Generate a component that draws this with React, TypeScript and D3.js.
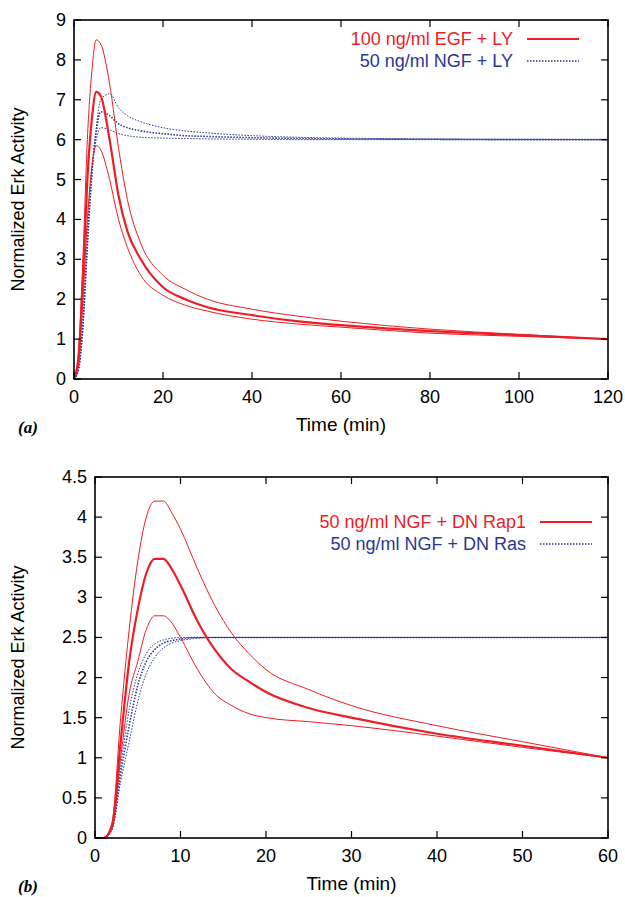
import * as d3 from 'd3';

// Panel (a): EGF + LY (red) and NGF + LY (blue)
const tA = [0, 1, 2, 3, 4, 5, 6, 8, 10, 12, 15, 20, 25, 30, 40, 50, 60, 80, 100, 120];
const egfMid = [0, 0.5, 2.5, 5, 6.5, 7.2, 7.1, 6.0, 4.6, 3.7, 3.0, 2.3, 2.0, 1.8, 1.6, 1.45, 1.35, 1.2, 1.1, 1.0];
const egfHigh = [0, 0.7, 3, 6, 7.7, 8.5, 8.4, 7.4, 5.8, 4.5, 3.4, 2.6, 2.25, 2.0, 1.75, 1.58, 1.45, 1.25, 1.12, 1.0];
const egfLow = [0, 0.4, 2, 4, 5.3, 5.85, 5.75, 5.0, 4.0, 3.3, 2.6, 2.1, 1.85, 1.7, 1.5, 1.38, 1.3, 1.15, 1.07, 1.0];
const ngfAHigh = [0, 0.2, 1.2, 3.2, 5.0, 6.3, 7.0, 7.15, 6.8, 6.6, 6.45, 6.3, 6.22, 6.17, 6.1, 6.06, 6.04, 6.02, 6.01, 6.0];
const ngfAMid = [0, 0.25, 1.4, 3.5, 5.2, 6.2, 6.7, 6.6, 6.4, 6.3, 6.22, 6.15, 6.1, 6.08, 6.05, 6.03, 6.02, 6.01, 6.0, 6.0];
const ngfALow = [0, 0.3, 1.5, 3.6, 5.3, 6.0, 6.3, 6.25, 6.15, 6.1, 6.06, 6.04, 6.03, 6.02, 6.01, 6.0, 6.0, 6.0, 6.0, 6.0];

// Panel (b): NGF + DN Rap1 (red) and NGF + DN Ras (blue)
const tB = [0, 1, 2, 3, 4, 5, 6, 7, 8, 9, 10, 12, 14, 16, 18, 20, 25, 30, 40, 50, 60];
const rapMid = [0, 0, 0.15, 1.2, 2.2, 2.85, 3.3, 3.48, 3.48, 3.35, 3.15, 2.7, 2.35, 2.1, 1.95, 1.82, 1.62, 1.5, 1.3, 1.15, 1.0];
const rapHigh = [0, 0, 0.2, 1.5, 2.6, 3.45, 4.0, 4.2, 4.2, 4.05, 3.85, 3.35, 2.9, 2.55, 2.3, 2.1, 1.85, 1.65, 1.4, 1.2, 1.0];
const rapLow = [0, 0, 0.12, 1.0, 1.8, 2.2, 2.6, 2.77, 2.77, 2.68, 2.5, 2.1, 1.8, 1.65, 1.55, 1.5, 1.45, 1.4, 1.27, 1.13, 1.0];
const rasFast = [0, 0, 0.15, 0.9, 1.6, 2.05, 2.3, 2.42, 2.47, 2.49, 2.5, 2.5, 2.5, 2.5, 2.5, 2.5, 2.5, 2.5, 2.5, 2.5, 2.5];
const rasMid = [0, 0, 0.13, 0.8, 1.4, 1.9, 2.2, 2.35, 2.43, 2.46, 2.48, 2.5, 2.5, 2.5, 2.5, 2.5, 2.5, 2.5, 2.5, 2.5, 2.5];
const rasSlow = [0, 0, 0.1, 0.7, 1.2, 1.7, 2.05, 2.25, 2.37, 2.43, 2.46, 2.49, 2.5, 2.5, 2.5, 2.5, 2.5, 2.5, 2.5, 2.5, 2.5];

const RED = '#ee1c24';
const BLUE = '#2b3695';
const FONT = '"Liberation Sans", Arial, sans-serif';

type Series = { ys: number[]; color: string; width: number; dash?: string };

interface PanelProps {
  top: number; left: number; right: number; bottom: number;
  xMax: number; xTicks: number[];
  yMax: number; yTicks: number[];
  ts: number[]; series: Series[];
  legend: { label: string; color: string; dash?: string }[];
  legendRight: number; legendY: number;
  tag: string;
}

const Panel = (p: PanelProps) => {
  const x = d3.scaleLinear().domain([0, p.xMax]).range([p.left, p.right]);
  const y = d3.scaleLinear().domain([0, p.yMax]).range([p.bottom, p.top]);
  const line = (ys: number[]) =>
    d3.line<number>().x((_, i) => x(p.ts[i])).y(d => y(d)).curve(d3.curveMonotoneX)(ys) || '';
  return (
    <g>
      {p.series.map((s, i) => (
        <path key={i} d={line(s.ys)} fill="none" stroke={s.color} strokeWidth={s.width}
          strokeDasharray={s.dash} />
      ))}
      <rect x={p.left} y={p.top} width={p.right - p.left} height={p.bottom - p.top}
        fill="none" stroke="#000" strokeWidth={1.6} />
      {p.xTicks.map(t => (
        <g key={'x' + t}>
          <line x1={x(t)} x2={x(t)} y1={p.bottom} y2={p.bottom - 7} stroke="#000" strokeWidth={1.2} />
          <line x1={x(t)} x2={x(t)} y1={p.top} y2={p.top + 7} stroke="#000" strokeWidth={1.2} />
          <text x={x(t)} y={p.bottom + 24} textAnchor="middle" fontSize={18}>{String(t)}</text>
        </g>
      ))}
      {p.yTicks.map(t => (
        <g key={'y' + t}>
          <line x1={p.left} x2={p.left + 7} y1={y(t)} y2={y(t)} stroke="#000" strokeWidth={1.2} />
          <line x1={p.right} x2={p.right - 7} y1={y(t)} y2={y(t)} stroke="#000" strokeWidth={1.2} />
          <text x={p.left - 8} y={y(t) + 6} textAnchor="end" fontSize={18}>{String(t)}</text>
        </g>
      ))}
      <text transform={`translate(24,${(p.top + p.bottom) / 2}) rotate(-90)`} textAnchor="middle"
        fontSize={18}>Normalized Erk Activity</text>
      <text x={(p.left + p.right) / 2} y={p.bottom + 52} textAnchor="middle" fontSize={19}>Time (min)</text>
      <text x={18} y={p.bottom + 54} fontFamily='"Liberation Serif", serif' fontStyle="italic"
        fontWeight="bold" fontSize={17}>{p.tag}</text>
      {p.legend.map((l, i) => (
        <g key={l.label}>
          <text x={p.legendRight} y={p.legendY + i * 22 + 6} textAnchor="end" fontSize={18}
            fill={l.color}>{l.label}</text>
          <line x1={p.legendRight + 14} x2={p.legendRight + 66} y1={p.legendY + i * 22}
            y2={p.legendY + i * 22} stroke={l.color} strokeWidth={l.dash ? 1.4 : 2}
            strokeDasharray={l.dash} />
        </g>
      ))}
    </g>
  );
};

export default function App() {
  const dot = '1.5,1.5';
  return (
    <svg width={625} height={897} style={{ position: 'absolute', left: 0, top: 0 }} fontFamily={FONT}>
      <rect width={625} height={897} fill="#fff" />
      <Panel top={20} left={74} right={608} bottom={379} xMax={120} xTicks={[0, 20, 40, 60, 80, 100, 120]}
        yMax={9} yTicks={d3.range(0, 10)} ts={tA}
        series={[
          { ys: ngfAHigh, color: BLUE, width: 1, dash: dot },
          { ys: ngfAMid, color: BLUE, width: 1.6, dash: dot },
          { ys: ngfALow, color: BLUE, width: 1, dash: dot },
          { ys: egfHigh, color: RED, width: 1 },
          { ys: egfLow, color: RED, width: 1 },
          { ys: egfMid, color: RED, width: 2.2 },
        ]}
        legend={[
          { label: '100 ng/ml EGF + LY', color: RED },
          { label: '50 ng/ml NGF + LY', color: BLUE, dash: dot },
        ]}
        legendRight={513} legendY={39} tag="(a)" />
      <Panel top={477} left={95} right={608} bottom={838} xMax={60} xTicks={[0, 10, 20, 30, 40, 50, 60]}
        yMax={4.5} yTicks={d3.range(0, 4.51, 0.5).map(v => +v.toFixed(1))} ts={tB}
        series={[
          { ys: rasFast, color: BLUE, width: 1, dash: dot },
          { ys: rasMid, color: BLUE, width: 1.6, dash: dot },
          { ys: rasSlow, color: BLUE, width: 1, dash: dot },
          { ys: rapHigh, color: RED, width: 1 },
          { ys: rapLow, color: RED, width: 1 },
          { ys: rapMid, color: RED, width: 2.2 },
        ]}
        legend={[
          { label: '50 ng/ml NGF + DN Rap1', color: RED },
          { label: '50 ng/ml NGF + DN Ras', color: BLUE, dash: dot },
        ]}
        legendRight={526} legendY={522} tag="(b)" />
    </svg>
  );
}
